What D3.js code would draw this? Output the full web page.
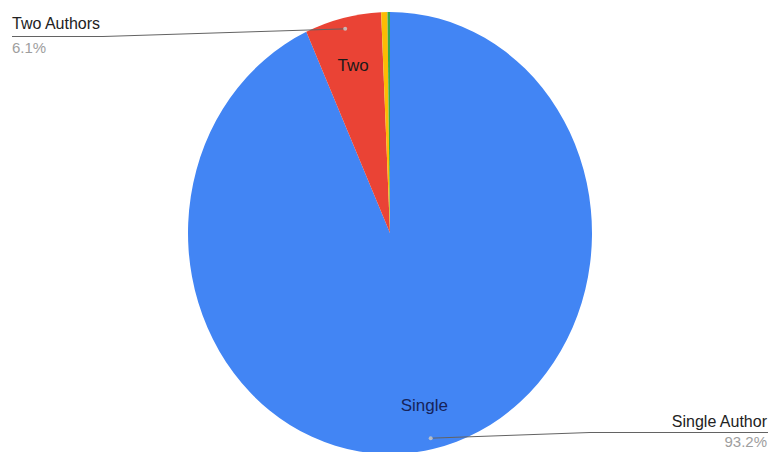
<!DOCTYPE html>
<html>
<head>
<meta charset="utf-8">
<script src="https://cdn.jsdelivr.net/npm/d3@7/dist/d3.min.js"></script>
<style>
  html, body { margin: 0; padding: 0; background: #fff; }
  svg { display: block; font-family: Arial, "Liberation Sans", sans-serif; }
</style>
</head>
<body>
<svg id="chart" width="768" height="452"></svg>
<script>
// Data
const categories = ["Single Author", "Two Authors", "Three Authors", "Four or More"];
const values = [93.2, 6.1, 0.5, 0.2];
const sliceLabels = ["Single", "Two", "", ""];
const colors = ["#4285f4", "#ea4335", "#fbbc04", "#34a853"];
const legendCats = ["Two Authors", "Single Author"];

const W = 768, H = 452;
const cx = 390, cy = 233, rx = 202, ry = 221;
const svg = d3.select("#chart");

const data = categories.map((c, i) => ({ name: c, value: values[i], label: sliceLabels[i], color: colors[i] }));
const pie = d3.pie().sort(null).value(d => d.value);
const arcs = pie(data);
const total = d3.sum(values);

const arc = d3.arc().innerRadius(0).outerRadius(rx);

// Ellipse via vertical scale
const g = svg.append("g").attr("transform", `translate(${cx},${cy}) scale(1,${ry / rx})`);
g.selectAll("path").data(arcs).join("path")
  .attr("d", arc)
  .attr("fill", d => d.data.color);

function pt(angle, k) {
  return [cx + Math.sin(angle) * rx * k, cy - Math.cos(angle) * ry * k];
}

const labelFrac = { "Single Author": 0.8, "Two Authors": 0.78 };

svg.selectAll("text.slice").data(arcs.filter(d => d.data.label)).join("text")
  .attr("class", "slice")
  .attr("x", d => pt((d.startAngle + d.endAngle) / 2, labelFrac[d.data.name])[0])
  .attr("y", d => pt((d.startAngle + d.endAngle) / 2, labelFrac[d.data.name])[1])
  .attr("text-anchor", "middle")
  .attr("dominant-baseline", "central")
  .attr("font-size", 17)
  .attr("fill", d => d.data.name === "Single Author" ? "#16235a" : "#1a1a1a")
  .text(d => d.data.label);

const fmt = v => (v / total * 100).toFixed(1) + "%";
const labelSpecs = {
  "Two Authors": { anchor: "start", x: 12, y: 29, pctDy: 24, lineY: 36.5, bendX: 103, endX: 12 },
  "Single Author": { anchor: "end", x: 767, y: 427, pctDy: 20, lineY: 432.5, bendX: 590, endX: 768 }
};

legendCats.forEach(name => {
  const a = arcs.find(d => d.data.name === name);
  const s = labelSpecs[name];
  const mid = (a.startAngle + a.endAngle) / 2;
  const dot = pt(mid, 0.95);
  const line = d3.line();
  svg.append("path")
    .attr("d", line([dot, [s.bendX, s.lineY], [s.endX, s.lineY]]))
    .attr("fill", "none")
    .attr("stroke", "#636363")
    .attr("stroke-width", 1);
  svg.append("circle")
    .attr("cx", dot[0]).attr("cy", dot[1]).attr("r", 2)
    .attr("fill", "#c8c8c8").attr("opacity", 0.85);
  svg.append("text")
    .attr("x", s.x).attr("y", s.y)
    .attr("text-anchor", s.anchor)
    .attr("font-size", 16)
    .attr("fill", "#222")
    .text(name);
  svg.append("text")
    .attr("x", s.x).attr("y", s.y + s.pctDy)
    .attr("text-anchor", s.anchor)
    .attr("font-size", 15)
    .attr("fill", "#9e9e9e")
    .text(fmt(a.data.value));
});
</script>
</body>
</html>
